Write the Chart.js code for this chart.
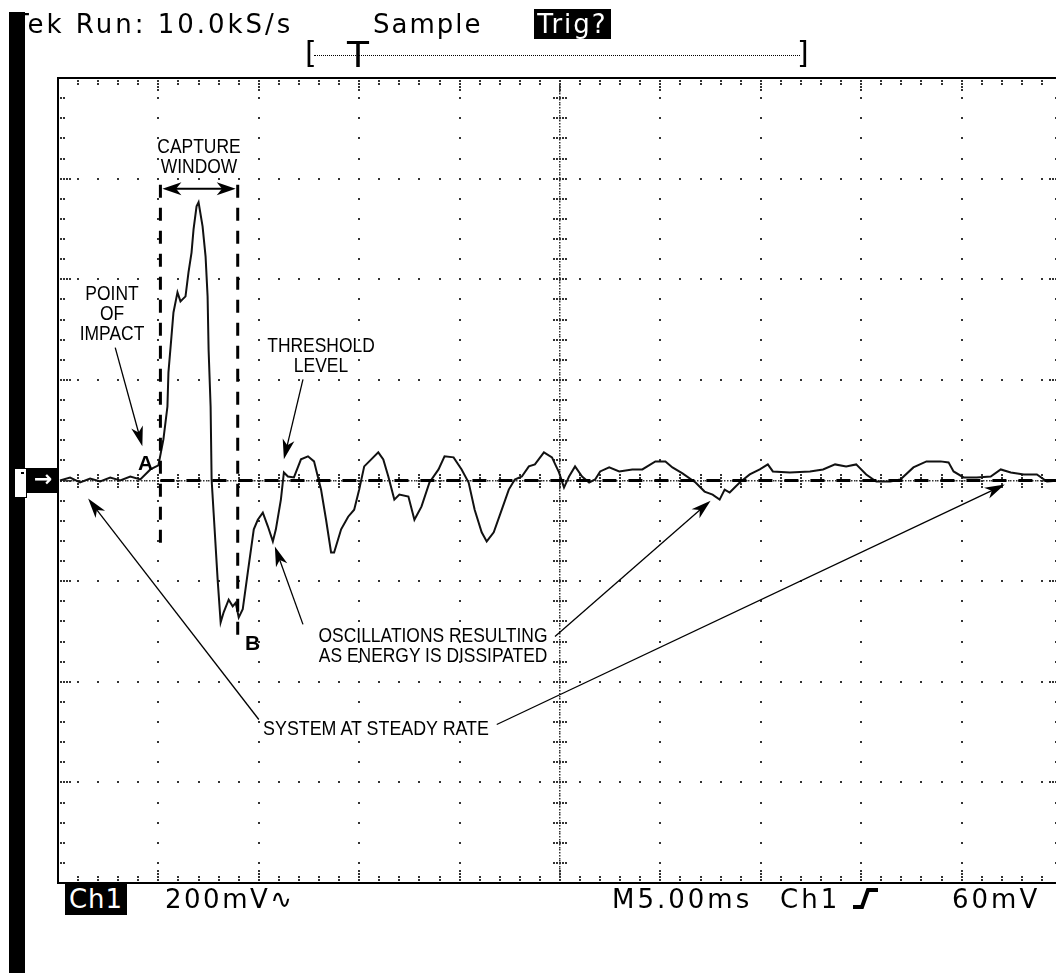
<!DOCTYPE html>
<html>
<head>
<meta charset="utf-8">
<script src="https://cdn.jsdelivr.net/npm/chart.js@4.4.0/dist/chart.umd.min.js"></script>
<style>
  html, body { margin: 0; padding: 0; background: #fff; overflow: hidden; }
  #wrap { position: relative; width: 1056px; height: 973px; overflow: hidden; }
  #scope { position: absolute; left: 0; top: 0; }
  .scr { position: absolute; font-family: "DejaVu Sans"; font-size: 26px; line-height: 26px; color: #000; white-space: nowrap; }
  .inv { position: absolute; background: #000; color: #fff; font-family: "DejaVu Sans"; font-size: 26px; text-align: center; white-space: nowrap; }
  .note { position: absolute; font-family: "Liberation Sans", Arial, sans-serif; font-size: 21px; line-height: 20px;
          white-space: nowrap; transform: translateX(-50%) scaleX(.83); }
  .big { position: absolute; font-family: "Liberation Sans", Arial, sans-serif; font-weight: bold; font-size: 21px; line-height: 21px; }
  #bar { position: absolute; left: 9px; top: 12px; width: 16px; height: 961px; background: #000; }
</style>
</head>
<body>
<div id="wrap">
  <canvas id="scope" width="1070" height="973"></canvas>

  <!-- header -->
  <div class="scr" style="left:13px;top:11px;letter-spacing:3px">Tek Run: 10.0kS/s</div>
  <div class="scr" style="left:373px;top:11px;letter-spacing:2px">Sample</div>
  <div class="inv" style="left:534px;top:9px;width:77px;height:30px;line-height:30px;letter-spacing:2px">Trig?</div>
  <div class="scr" style="left:305px;top:38px;font-size:30px;line-height:30px">[</div>
  <div style="position:absolute;left:314px;top:55px;width:486px;border-top:1px dotted #000"></div>
  <div class="scr" style="left:347px;top:37px;font-size:36px;line-height:36px">T</div>
  <div class="scr" style="left:797px;top:38px;font-size:30px;line-height:30px">]</div>
  <div id="bar"></div>

  <!-- ground reference marker -->
  <div style="position:absolute;left:26px;top:468px;width:32px;height:25px;background:#000"></div>
  <div style="position:absolute;left:14px;top:468px;width:11px;height:28px;background:#fff;border:1px solid #000"></div>
  <div style="position:absolute;left:21px;top:472px;width:3px;height:2px;background:#000"></div>
  <div class="scr" style="left:34px;top:466px;color:#fff;font-size:22px;font-weight:bold">→</div>

  <!-- footer -->
  <div class="inv" style="left:65px;top:884px;width:62px;height:31px;line-height:31px;letter-spacing:1px">Ch1</div>
  <div class="scr" style="left:165px;top:886px;letter-spacing:2.5px">200mV∿</div>
  <div class="scr" style="left:612px;top:886px;letter-spacing:3px">M5.00ms</div>
  <div class="scr" style="left:780px;top:886px;letter-spacing:3px">Ch1</div>
  <svg style="position:absolute;left:850px;top:884px" width="32" height="28">
    <polyline points="3,23 12,23 18,6 28,6" fill="none" stroke="#000" stroke-width="4"/>
  </svg>
  <div class="scr" style="left:952px;top:886px;letter-spacing:3px">60mV</div>

  <!-- annotations -->
  <div class="note" style="left:199px;top:136px;text-align:center">CAPTURE<br>WINDOW</div>
  <div class="note" style="left:112px;top:283px;text-align:center">POINT<br>OF<br>IMPACT</div>
  <div class="note" style="left:321px;top:335px;text-align:center">THRESHOLD<br>LEVEL</div>
  <div class="note" style="left:433px;top:625px;text-align:right">OSCILLATIONS RESULTING<br>AS ENERGY IS DISSIPATED</div>
  <div class="note" style="left:376px;top:718px;text-align:center;transform:translateX(-50%) scaleX(.85)">SYSTEM AT STEADY RATE</div>
  <div class="big" style="left:138px;top:452px">A</div>
  <div class="big" style="left:245px;top:632px">B</div>
</div>

<script>
// Ch1 record, time in ms (10 div x 5 ms), amplitude in mV (200 mV/div)
const timeMs = [
  0.1, 0.6, 1.1, 1.6, 2.1, 2.6, 3.1, 3.6, 4.1, 4.6, 5.0, 5.25, 5.45, 5.5, 5.65, 5.75, 5.95, 6.1, 6.35,
  6.5, 6.65, 6.75, 6.9, 7.0, 7.2, 7.35, 7.45, 7.5, 7.6, 7.65, 7.75, 7.95, 8.1, 8.25, 8.5, 8.7, 8.85,
  9.0, 9.2, 9.45, 9.75, 9.95, 10.2, 10.45, 10.7, 10.85, 11.1, 11.25, 11.45, 11.75, 12.1, 12.45, 12.75,
  13.1, 13.35, 13.6, 13.75, 14.1, 14.45, 14.75, 15.0, 15.25, 15.6, 15.95, 16.2, 16.45, 16.75, 17.0,
  17.45, 17.75, 18.1, 18.5, 18.95, 19.25, 19.7, 20.1, 20.45, 20.75, 21.1, 21.35, 21.7, 22.1, 22.45,
  22.75, 23.1, 23.45, 23.75, 24.2, 24.6, 24.95, 25.2, 25.45, 25.75, 26.1, 26.45, 26.75, 27.0, 27.45,
  27.95, 28.6, 29.1, 29.75, 30.25, 30.6, 31.1, 31.75, 32.2, 32.6, 32.95, 33.2, 33.45, 33.95, 34.45,
  34.95, 35.35, 35.6, 36.45, 37.45, 38.1, 38.7, 39.25, 39.75, 40.25, 40.75, 41.45, 41.95, 42.6, 43.25,
  43.95, 44.35, 44.6, 45.1, 45.75, 46.45, 46.95, 47.45, 48.1, 48.75, 49.25, 49.9
];
const ch1mV = [
  0, 6, -4, 4, -2, 6, 0, 8, 2, 22, 30, 82, 147, 215, 286, 334, 374, 356, 366,
  414, 453, 499, 545, 553, 505, 445, 366, 260, 147, 2, -64, -197, -282, -262, -237, -250, -243,
  -272, -256, -183, -97, -78, -64, -91, -121, -97, -38, 16, 8, 6, 42, 48, 38,
  -18, -78, -143, -143, -97, -72, -58, -18, 28, 42, 56, 42, 8, -38, -28,
  -32, -78, -52, -4, 22, 48, 46, 22, -4, -58, -103, -121, -103, -58, -18,
  2, 8, 28, 32, 56, 46, 16, -14, 8, 28, 8, -4, 2, 18, 26,
  18, 22, 22, 38, 38, 26, 14, -4, -22, -28, -38, -18, -24, -4, 12,
  22, 32, 18, 16, 18, 22, 32, 28, 32, 12, -2, -2, 2, 26, 38,
  38, 36, 18, 6, 6, 8, 22, 16, 12, 12, -2, 0
];
const timeDivs = [0, 5, 10, 15, 20, 25, 30, 35, 40, 45, 50];
const voltDivs = [-800, -600, -400, -200, 0, 200, 400, 600, 800];
const minorTime = 1;
const minorVolt = 40;

// annotation geometry in data units
const captureStartMs = 5.1;
const captureEndMs = 8.95;
const captureArrowMv = 580;
const windowLines = [
  { t: captureStartMs, from: 588, to: -127 },
  { t: captureEndMs, from: 588, to: -316 }
];
const thresholdMv = 0;
const pointers = [
  [2.85, 264, 4.2, 68],
  [12.2, 201, 11.25, 42],
  [12.2, -286, 10.8, -131],
  [24.75, -310, 32.5, -40],
  [10, -475, 1.5, -36],
  [21.85, -485, 47.15, -8]
];

function head(ctx, x1, y1, x2, y2, len, half) {
  const a = Math.atan2(y2 - y1, x2 - x1);
  ctx.save();
  ctx.translate(x2, y2);
  ctx.rotate(a);
  ctx.beginPath();
  ctx.moveTo(0, 0);
  ctx.lineTo(-len, -half);
  ctx.lineTo(-len * 0.72, 0);
  ctx.lineTo(-len, half);
  ctx.closePath();
  ctx.fill();
  ctx.restore();
}

const graticule = {
  id: 'graticule',
  beforeDatasetsDraw(chart) {
    const { ctx, chartArea: a, scales: { x, y } } = chart;
    const dot = (px, py, s) => ctx.fillRect(Math.round(px - s / 2), Math.round(py - s / 2), s, s);
    ctx.save();
    ctx.fillStyle = '#333';
    const tMid = (timeDivs[0] + timeDivs[timeDivs.length - 1]) / 2;
    const vMid = (voltDivs[0] + voltDivs[voltDivs.length - 1]) / 2;
    const tMinors = [], vMinors = [];
    for (let t = timeDivs[0]; t <= timeDivs[timeDivs.length - 1] + 1e-9; t += minorTime) tMinors.push(t);
    for (let v = voltDivs[0]; v <= voltDivs[voltDivs.length - 1] + 1e-9; v += minorVolt) vMinors.push(v);

    // major lines: a dot at each minor division
    timeDivs.slice(1, -1).forEach(t => {
      if (t === tMid) return;
      const px = x.getPixelForValue(t);
      vMinors.forEach(v => dot(px, y.getPixelForValue(v), 2));
    });
    voltDivs.slice(1, -1).forEach(v => {
      if (v === vMid) return;
      const py = y.getPixelForValue(v);
      tMinors.forEach(t => dot(x.getPixelForValue(t), py, 2));
    });

    // centre lines: fine dotted with cross ticks
    const cx = x.getPixelForValue(tMid), cy = y.getPixelForValue(vMid);
    for (let py = a.top; py <= a.bottom; py += 2.7) dot(cx, py, 1.5);
    for (let px = a.left; px <= a.right; px += 2.7) dot(px, cy, 1.5);
    vMinors.forEach(v => {
      const py = y.getPixelForValue(v);
      for (let k = -6; k <= 6; k += 3) dot(cx + k, py, 2);
    });
    tMinors.forEach(t => {
      const px = x.getPixelForValue(t);
      for (let k = -6; k <= 6; k += 3) dot(px, cy + k, 2);
    });

    // edge ticks
    tMinors.forEach((t, i) => {
      const px = x.getPixelForValue(t);
      const n = (i % 5 === 0) ? 4 : 2;
      for (let k = 1; k <= n; k++) { dot(px, a.top + 3 * k, 2); dot(px, a.bottom - 3 * k, 2); }
    });
    vMinors.forEach((v, i) => {
      const py = y.getPixelForValue(v);
      const n = (i % 5 === 0) ? 4 : 2;
      for (let k = 1; k <= n; k++) { dot(a.left + 3 * k, py, 2); dot(a.right - 3 * k, py, 2); }
    });

    // frame
    ctx.strokeStyle = '#000';
    ctx.lineWidth = 2;
    ctx.beginPath();
    ctx.moveTo(a.right, a.top); ctx.lineTo(a.left, a.top);
    ctx.lineTo(a.left, a.bottom); ctx.lineTo(a.right, a.bottom);
    ctx.stroke();
    ctx.restore();
  }
};

const notes = {
  id: 'notes',
  afterDatasetsDraw(chart) {
    const { ctx, chartArea: a, scales: { x, y } } = chart;
    ctx.save();
    ctx.strokeStyle = '#000';
    ctx.fillStyle = '#000';

    // capture window and threshold (dashed)
    ctx.lineWidth = 3;
    ctx.setLineDash([13, 10]);
    windowLines.forEach(l => {
      const px = x.getPixelForValue(l.t);
      ctx.beginPath();
      ctx.moveTo(px, y.getPixelForValue(l.from));
      ctx.lineTo(px, y.getPixelForValue(l.to));
      ctx.stroke();
    });
    ctx.setLineDash([14, 12]);
    ctx.beginPath();
    ctx.moveTo(x.getPixelForValue(captureStartMs), y.getPixelForValue(thresholdMv));
    ctx.lineTo(a.right, y.getPixelForValue(thresholdMv));
    ctx.stroke();
    ctx.setLineDash([]);

    // double arrow over the window
    const ay = y.getPixelForValue(captureArrowMv);
    const ax1 = x.getPixelForValue(captureStartMs) + 2, ax2 = x.getPixelForValue(captureEndMs) - 2;
    ctx.lineWidth = 2;
    ctx.beginPath(); ctx.moveTo(ax1 + 8, ay); ctx.lineTo(ax2 - 8, ay); ctx.stroke();
    head(ctx, ax1 + 10, ay, ax2, ay, 19, 6.5);
    head(ctx, ax2 - 10, ay, ax1, ay, 19, 6.5);

    // pointers
    ctx.lineWidth = 1.3;
    pointers.forEach(p => {
      const x1 = x.getPixelForValue(p[0]), y1 = y.getPixelForValue(p[1]);
      const x2 = x.getPixelForValue(p[2]), y2 = y.getPixelForValue(p[3]);
      const d = Math.hypot(x2 - x1, y2 - y1);
      ctx.beginPath();
      ctx.moveTo(x1, y1);
      ctx.lineTo(x2 - (x2 - x1) / d * 12, y2 - (y2 - y1) / d * 12);
      ctx.stroke();
      head(ctx, x1, y1, x2, y2, 20, 6);
    });
    ctx.restore();
  }
};

new Chart(document.getElementById('scope'), {
  type: 'line',
  data: {
    datasets: [{
      label: 'Ch1',
      data: timeMs.map((t, i) => ({ x: t, y: ch1mV[i] })),
      borderColor: '#111',
      borderWidth: 2,
      pointRadius: 0,
      tension: 0,
      fill: false
    }]
  },
  plugins: [graticule, notes],
  options: {
    responsive: false,
    animation: false,
    devicePixelRatio: 1,
    layout: { padding: { left: 58, top: 78, right: 8, bottom: 90 } },
    plugins: { legend: { display: false }, tooltip: { enabled: false } },
    scales: {
      x: { type: 'linear', min: timeDivs[0], max: timeDivs[timeDivs.length - 1], display: false },
      y: { type: 'linear', min: voltDivs[0], max: voltDivs[voltDivs.length - 1], display: false }
    }
  }
});
</script>
</body>
</html>
